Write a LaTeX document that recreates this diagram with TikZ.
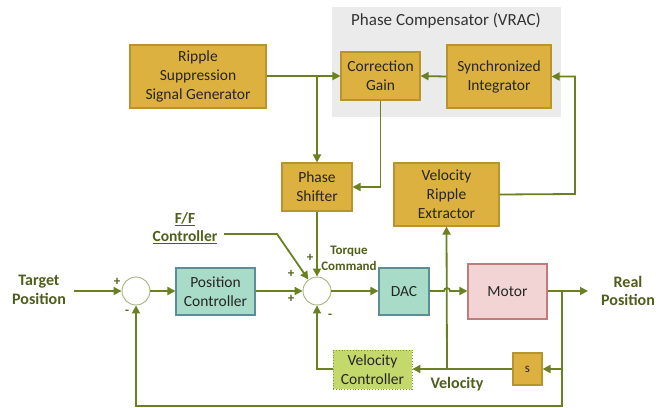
\documentclass[tikz,border=0pt]{standalone}
\usepackage{fontspec}
\setmainfont{Carlito}
\usetikzlibrary{arrows.meta,calc}

\definecolor{wire}{HTML}{6B7F23}
\definecolor{labelc}{HTML}{4F5E1C}
\definecolor{goldfill}{HTML}{DDB13F}
\definecolor{golddraw}{HTML}{B8942C}
\definecolor{tealfill}{HTML}{A8DCC9}
\definecolor{tealdraw}{HTML}{5E8C98}
\definecolor{pinkfill}{HTML}{F2D4D4}
\definecolor{pinkdraw}{HTML}{C27A7A}
\definecolor{limefill}{HTML}{C3D96B}
\definecolor{limedraw}{HTML}{7D9A3A}
\definecolor{panel}{HTML}{EBEBEB}

\tikzset{
  blk/.style={draw, line width=1.1pt, align=center, inner sep=0pt,
    font=\fontsize{15.5}{19}\selectfont, text=black!85},
  gold/.style={blk, fill=goldfill, draw=golddraw},
  teal/.style={blk, fill=tealfill, draw=tealdraw},
  summer/.style={circle, draw=wire!60, line width=0.9pt, fill=white,
    minimum size=28pt, inner sep=0pt},
  wireline/.style={draw=wire, line width=1.8pt},
  arr/.style={wireline, -{Triangle[length=8pt,width=8pt]}},
  lbl/.style={text=labelc, font=\fontsize{16}{18.5}\selectfont\bfseries, align=center},
  sign/.style={text=labelc, font=\fontsize{13}{13}\selectfont\bfseries, inner sep=0pt}
}

\begin{document}
\begin{tikzpicture}[x=1pt, y=-1pt]
\useasboundingbox (0,0) rectangle (671,407);

% phase compensator panel
\fill[panel] (332,7) rectangle (561,117);
\node[font=\fontsize{17}{19}\selectfont, text=black!80] (ptitle) at (446,21) {Phase Compensator (VRAC)};

% blocks
\node[gold, minimum width=79pt, minimum height=48pt] (corr) at (380.5,76) {Correction\\Gain};
\node[gold, minimum width=104pt, minimum height=63pt] (sync) at (499,76.5) {Synchronized\\Integrator};
\node[gold, minimum width=136pt, minimum height=63pt] (rssg) at (198,76.5) {Ripple\\Suppression\\Signal Generator};
\node[gold, minimum width=70pt, minimum height=48pt] (shift) at (317,187) {Phase\\Shifter};
\node[gold, minimum width=105pt, minimum height=63pt] (vre) at (446.5,194.5) {Velocity\\Ripple\\Extractor};
\node[teal, minimum width=79pt, minimum height=47pt] (posc) at (215.5,291.5) {Position\\Controller};
\node[teal, minimum width=50pt, minimum height=47pt] (dac) at (404,291.5) {DAC};
\node[blk, fill=pinkfill, draw=pinkdraw, minimum width=79pt, minimum height=55pt] (motor) at (507.5,291.5) {Motor};
\node[blk, fill=limefill, draw=limedraw, line width=0.8pt, dotted, minimum width=79pt, minimum height=39pt] (velc) at (372.5,369.5) {Velocity\\Controller};
\node[gold, minimum width=29pt, minimum height=32pt, font=\fontsize{13}{13}\selectfont] (sbox) at (527.5,369) {s};

% summing junctions
\node[summer] (sum1) at (136,291) {};
\node[summer] (sum2) at (317,291) {};

% text labels
\node[lbl] (tgt) at (39,290) {Target\\Position};
\node[lbl] (real) at (628,291) {Real\\Position};
\node[lbl] (vel) at (457,384) {Velocity};
\node[lbl, font=\fontsize{15.5}{18.5}\selectfont\bfseries] (ff) at (185,228) {\underline{F/F}\\\underline{Controller}};
\node[lbl, font=\fontsize{13}{15.5}\selectfont\bfseries] (tq) at (349,258.5) {Torque\\Command};

% signs
\node[sign] at (117,282) {+};
\node[sign] at (127,312) {-};
\node[sign] at (291,274) {+};
\node[sign] at (291,299) {+};
\node[sign] at (310,258) {+};
\node[sign] at (330,316) {-};

% junction coordinates
\coordinate (jr) at (317,76);
\coordinate (jm) at (562,291);
\coordinate (jv) at (447,369);
\coordinate (out) at (588,291);
\coordinate (tin) at (74,291);
\coordinate (ffin) at (224,234);

% upper signal path
\draw[arr] (rssg.east |- jr) -- (corr.west);
\draw[arr] (jr) -- (shift.north);
\draw[arr] (sync.west) -- (corr.west -| corr.east);
\draw[arr] (corr.south) |- (shift.east);
\draw[arr] (vre.east) -- (575,194) |- (sync.east);
\draw[arr] (shift.south) -- (sum2.north);

% main forward path
\draw[arr] (tin) -- (sum1.west);
\draw[arr] (sum1.east) -- (posc.west |- sum1.east);
\draw[arr] (posc.east |- sum2.west) -- (sum2.west);
\draw[arr] (ffin) -- (277,234) -- (sum2.127);
\draw[arr] (sum2.east) -- (dac.west |- sum2.east);
\draw[arr] (dac.east |- sum2.east) -- (444,291) arc[start angle=180, end angle=360, radius=3] -- (motor.west |- sum2.east);
\draw[arr] (motor.east |- jm) -- (out);

% feedback paths
\draw[arr] (jm) -- (562,406) -- (136,406) -- (sum1.south);
\draw[arr] (jm |- sbox.east) -- (sbox.east);
\draw[arr] (sbox.west) -- (velc.east |- sbox.west);
\draw[arr] (jv) -- (vre.south);
\draw[arr] (velc.west |- sbox.west) -- (317,369) -- (sum2.south);
\end{tikzpicture}
\end{document}
